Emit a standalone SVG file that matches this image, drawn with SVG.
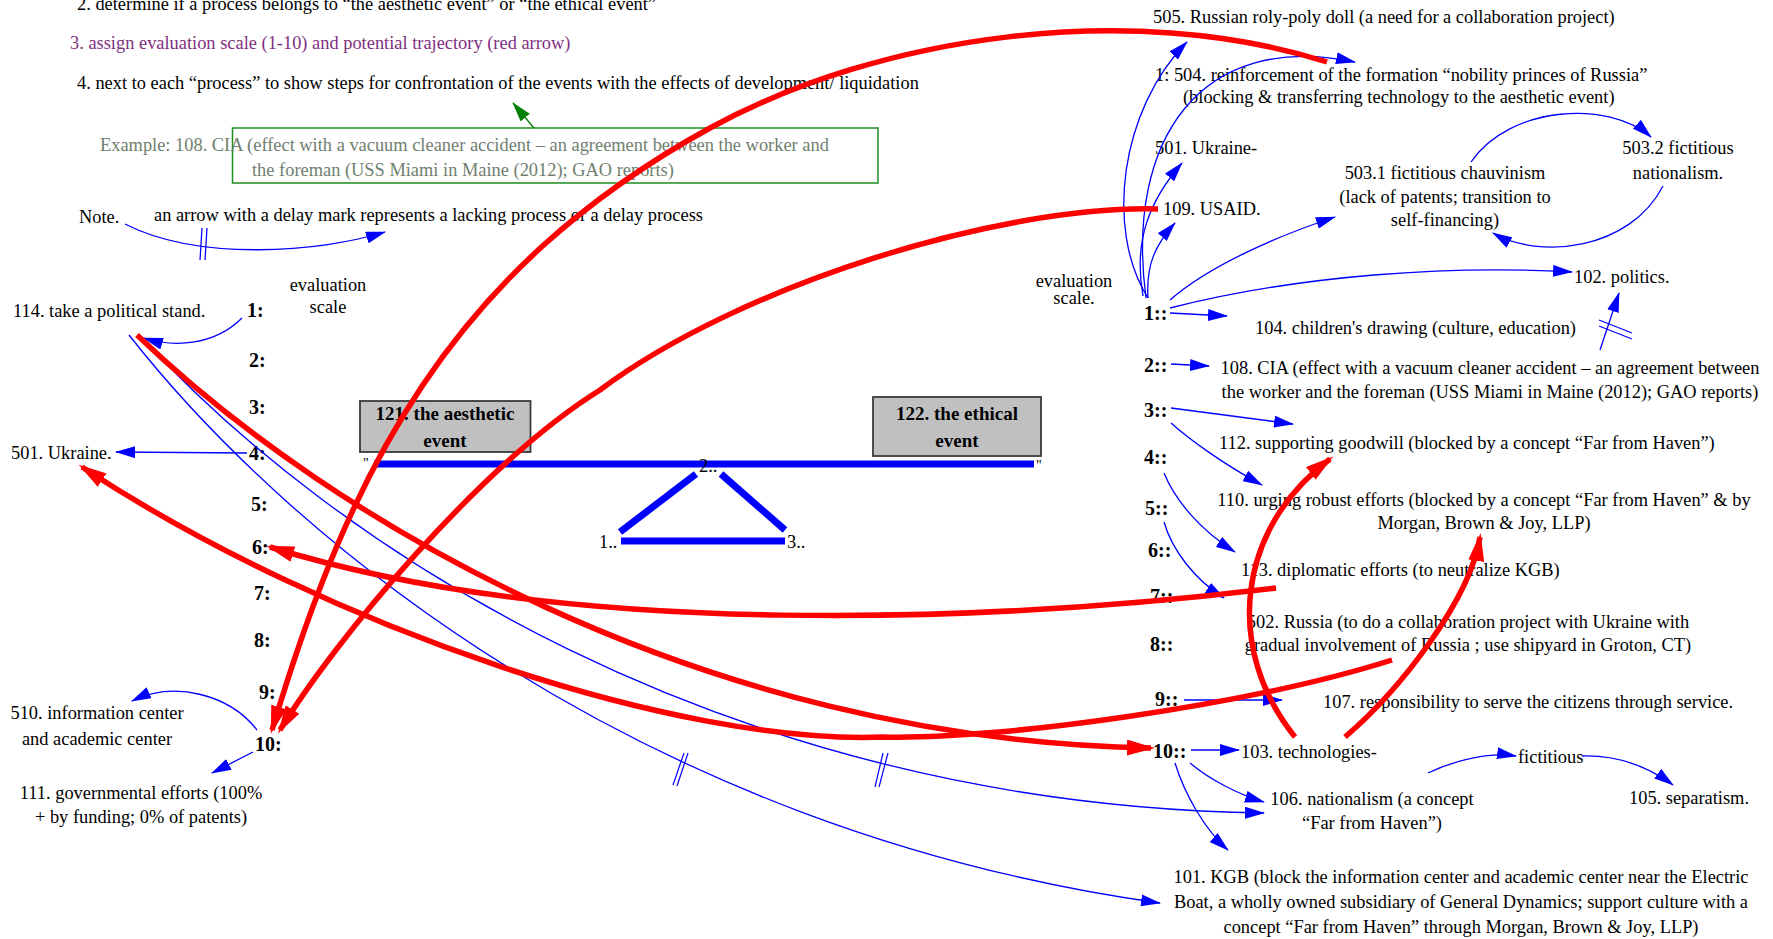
<svg xmlns="http://www.w3.org/2000/svg" width="1773" height="939" viewBox="0 0 1773 939">
<defs>
<style>
text{font-family:"Liberation Serif","Times New Roman",serif;font-size:18.4px;fill:#000}
.m{text-anchor:middle}
.b{font-weight:bold;font-size:20px}
.bx{font-weight:bold;font-size:19px}
.pu{fill:#7f2f7f}
.gy{fill:#6f806f}
.bl{fill:none;stroke:#0000ff;stroke-width:1.3}
.rd{fill:none;stroke:#ff0000;stroke-width:5.5}
.dm{stroke:#0000ff;stroke-width:1.2}
.ss{stroke:#0000ff;stroke-width:7;fill:none}
.box{fill:#c0c0c0;stroke:#3a3a3a;stroke-width:1.8}
</style>
<marker id="ab" markerUnits="userSpaceOnUse" markerWidth="20" markerHeight="12" refX="19" refY="6" orient="auto"><path d="M0,0 L20,6 L0,12 z" fill="#0000ff"/></marker>
<marker id="ag" markerUnits="userSpaceOnUse" markerWidth="20" markerHeight="12" refX="19" refY="6" orient="auto"><path d="M0,0 L20,6 L0,12 z" fill="#008000"/></marker>
<marker id="ar" markerUnits="userSpaceOnUse" markerWidth="28" markerHeight="16" refX="24" refY="8" orient="auto"><path d="M0,0 L28,8 L0,16 z" fill="#ff0000"/></marker>
</defs>
<rect width="1773" height="939" fill="#fff"/>

<g id="instructions">
<text x="77" y="10">2. determine if a process belongs to “the aesthetic event” or “the ethical event”</text>
<text x="70" y="49" class="pu">3. assign evaluation scale (1-10) and potential trajectory (red arrow)</text>
<text x="77" y="89">4. next to each “process” to show steps for confrontation of the events with the effects of development/ liquidation</text>
</g>
<g id="example">
<rect x="232.5" y="128" width="645.5" height="55" fill="none" stroke="#1e8c1e" stroke-width="1.5"/>
<text x="100" y="151" class="gy">Example: 108. CIA (effect with a vacuum cleaner accident – an agreement between the worker and</text>
<text x="252" y="176" class="gy">the foreman (USS Miami in Maine (2012); GAO reports)</text>
</g>
<g id="note">
<text x="79" y="223">Note.</text>
<text x="154" y="221">an arrow with a delay mark represents a lacking process or a delay process</text>
</g>

<g id="left-scale">
<text x="328" y="291" class="m">evaluation</text>
<text x="328" y="313" class="m">scale</text>
<text x="247" y="317" class="b">1:</text>
<text x="249" y="367" class="b">2:</text>
<text x="249" y="414" class="b">3:</text>
<text x="249" y="460" class="b">4:</text>
<text x="251" y="511" class="b">5:</text>
<text x="252" y="554" class="b">6:</text>
<text x="254" y="600" class="b">7:</text>
<text x="254" y="647" class="b">8:</text>
<text x="259" y="699" class="b">9:</text>
<text x="255" y="751" class="b">10:</text>
</g>
<g id="n114"><text x="13" y="317">114. take a political stand.</text></g>
<g id="n501L"><text x="11" y="459">501. Ukraine.</text></g>
<g id="n510"><text x="97" y="719" class="m">510. information center</text><text x="97" y="745" class="m">and academic center</text></g>
<g id="n111"><text x="141" y="799" class="m">111. governmental efforts (100%</text><text x="141" y="823" class="m">+ by funding; 0% of patents)</text></g>

<g id="seesaw">
<line x1="374" y1="464" x2="1034" y2="464" class="ss"/>
<line x1="696" y1="474" x2="620" y2="532" class="ss"/>
<line x1="721" y1="474" x2="785" y2="530" class="ss"/>
<line x1="621" y1="541" x2="785" y2="541" class="ss"/>
<text x="363" y="468" style="font-size:14px">"</text>
<text x="1036" y="470" style="font-size:14px">"</text>
<text x="699" y="472">2..</text>
<text x="599" y="548">1..</text>
<text x="787" y="548">3..</text>
</g>
<g id="n121"><rect x="360" y="401" width="170.5" height="51" class="box"/><text x="445" y="420" class="m bx">121. the aesthetic</text><text x="445" y="447" class="m bx">event</text></g>
<g id="n122"><rect x="873" y="397" width="168" height="59" class="box"/><text x="957" y="420" class="m bx">122. the ethical</text><text x="957" y="447" class="m bx">event</text></g>

<g id="right-scale">
<text x="1074" y="287" class="m">evaluation</text>
<text x="1074" y="304" class="m">scale.</text>
<text x="1144" y="320" class="b">1::</text>
<text x="1144" y="372" class="b">2::</text>
<text x="1144" y="417" class="b">3::</text>
<text x="1144" y="464" class="b">4::</text>
<text x="1145" y="515" class="b">5::</text>
<text x="1148" y="557" class="b">6::</text>
<text x="1150" y="603" class="b">7::</text>
<text x="1150" y="651" class="b">8::</text>
<text x="1155" y="706" class="b">9::</text>
<text x="1153" y="758" class="b">10::</text>
</g>
<g id="n505"><text x="1153" y="23">505. Russian roly-poly doll (a need for a collaboration project)</text></g>
<g id="n504"><text x="1155" y="81">1: 504. reinforcement of the formation “nobility princes of Russia”</text><text x="1183" y="103">(blocking &amp; transferring technology to the aesthetic event)</text></g>
<g id="n501R"><text x="1155" y="154">501. Ukraine-</text></g>
<g id="n109"><text x="1163" y="215">109. USAID.</text></g>
<g id="n503-1"><text x="1445" y="179" class="m">503.1 fictitious chauvinism</text><text x="1445" y="203" class="m">(lack of patents; transition to</text><text x="1445" y="226" class="m">self-financing)</text></g>
<g id="n503-2"><text x="1678" y="154" class="m">503.2 fictitious</text><text x="1678" y="179" class="m">nationalism.</text></g>
<g id="n102"><text x="1574" y="283">102. politics.</text></g>
<g id="n104"><text x="1255" y="334">104. children's drawing (culture, education)</text></g>
<g id="n108"><text x="1490" y="374" class="m">108. CIA (effect with a vacuum cleaner accident – an agreement between</text><text x="1490" y="398" class="m">the worker and the foreman (USS Miami in Maine (2012); GAO reports)</text></g>
<g id="n112"><text x="1219" y="449">112. supporting goodwill (blocked by a concept “Far from Haven”)</text></g>
<g id="n110"><text x="1484" y="506" class="m">110. urging robust efforts (blocked by a concept “Far from Haven” &amp; by</text><text x="1484" y="529" class="m">Morgan, Brown &amp; Joy, LLP)</text></g>
<g id="n113"><text x="1241" y="576">113. diplomatic efforts (to neutralize KGB)</text></g>
<g id="n502"><text x="1468" y="628" class="m">502. Russia (to do a collaboration project with Ukraine with</text><text x="1468" y="651" class="m">gradual involvement of Russia ; use shipyard in Groton, CT)</text></g>
<g id="n107"><text x="1323" y="708">107. responsibility to serve the citizens through service.</text></g>
<g id="n103"><text x="1241" y="758">103. technologies-</text></g>
<g id="nfict"><text x="1518" y="763">fictitious</text></g>
<g id="n105"><text x="1629" y="804">105. separatism.</text></g>
<g id="n106"><text x="1372" y="805" class="m">106. nationalism (a concept</text><text x="1372" y="829" class="m">“Far from Haven”)</text></g>
<g id="n101"><text x="1461" y="883" class="m">101. KGB (block the information center and academic center near the Electric</text><text x="1461" y="908" class="m">Boat, a wholly owned subsidiary of General Dynamics; support culture with a</text><text x="1461" y="933" class="m">concept “Far from Haven” through Morgan, Brown &amp; Joy, LLP)</text></g>

<g id="connectors">
<line x1="534" y1="128" x2="513" y2="103" stroke="#008000" stroke-width="1.3" marker-end="url(#ag)"/>
<path d="M125,224 C200,262 320,252 385,232" class="bl" marker-end="url(#ab)"/>
<line x1="202" y1="228" x2="200" y2="260" class="dm"/><line x1="207" y1="228" x2="205" y2="260" class="dm"/>

<path d="M242,318 C215,345 175,348 144,338" class="bl" marker-end="url(#ab)"/>
<path d="M247,453 L116,452" class="bl" marker-end="url(#ab)"/>
<path d="M257,730 C230,695 175,680 132,701" class="bl" marker-end="url(#ab)"/>
<path d="M253,752 L212,773" class="bl" marker-end="url(#ab)"/>

<path d="M138,334 C330,545 720,805 1264,813" class="bl" marker-end="url(#ab)"/>
<line x1="875" y1="787" x2="883" y2="753" class="dm"/><line x1="879" y1="787" x2="888" y2="753" class="dm"/>
<path d="M129,335 C290,540 640,830 1160,903" class="bl" marker-end="url(#ab)"/>
<line x1="673" y1="785" x2="684" y2="753" class="dm"/><line x1="677" y1="786" x2="688" y2="753" class="dm"/>

<path d="M1148,298 C1105,230 1120,110 1187,42" class="bl" marker-end="url(#ab)"/>
<path d="M1146,298 C1125,140 1200,30 1355,62" class="bl" marker-end="url(#ab)"/>
<path d="M1143,296 C1133,240 1150,200 1182,163" class="bl" marker-end="url(#ab)"/>
<path d="M1148,298 C1146,265 1155,245 1175,223" class="bl" marker-end="url(#ab)"/>
<path d="M1170,300 C1210,265 1280,235 1335,217" class="bl" marker-end="url(#ab)"/>
<path d="M1170,308 C1300,275 1450,265 1572,272" class="bl" marker-end="url(#ab)"/>
<path d="M1170,313 L1227,316" class="bl" marker-end="url(#ab)"/>
<path d="M1471,162 C1510,105 1610,100 1651,137" class="bl" marker-end="url(#ab)"/>
<path d="M1663,186 C1630,250 1540,260 1493,233" class="bl" marker-end="url(#ab)"/>
<path d="M1600,350 L1619,293" class="bl" marker-end="url(#ab)"/>
<line x1="1599" y1="320" x2="1632" y2="333" class="dm"/><line x1="1599" y1="326" x2="1632" y2="339" class="dm"/>

<path d="M1171,364 L1209,366" class="bl" marker-end="url(#ab)"/>
<path d="M1171,408 L1293,424" class="bl" marker-end="url(#ab)"/>
<path d="M1171,423 C1190,440 1225,465 1262,485" class="bl" marker-end="url(#ab)"/>
<path d="M1164,473 C1175,500 1200,530 1235,552" class="bl" marker-end="url(#ab)"/>
<path d="M1164,522 C1172,550 1195,580 1224,598" class="bl" marker-end="url(#ab)"/>
<path d="M1184,700 L1282,700" class="bl" marker-end="url(#ab)"/>
<path d="M1191,750 L1239,750" class="bl" marker-end="url(#ab)"/>
<path d="M1190,763 C1210,780 1240,795 1264,802" class="bl" marker-end="url(#ab)"/>
<path d="M1175,763 C1185,795 1205,830 1228,850" class="bl" marker-end="url(#ab)"/>
<path d="M1428,773 C1455,760 1490,752 1516,756" class="bl" marker-end="url(#ab)"/>
<path d="M1582,756 C1620,755 1650,768 1673,785" class="bl" marker-end="url(#ab)"/>

<path d="M1327,62 C1130,0 880,35 710,128 C450,271 350,470 272,730" class="rd" marker-end="url(#ar)"/>
<path d="M1158,209 C1000,205 740,285 600,390 C480,465 335,640 280,730" class="rd" marker-end="url(#ar)"/>
<path d="M1276,588 C996,622 570,640 270,547" class="rd" marker-end="url(#ar)"/>
<path d="M1392,660 C1250,705 1000,740 883,737 C680,745 330,630 82,467" class="rd" marker-end="url(#ar)"/>
<path d="M1295,737 C1225,650 1235,530 1330,459" class="rd" marker-end="url(#ar)"/>
<path d="M1345,737 C1400,690 1470,600 1480,537" class="rd" marker-end="url(#ar)"/>
<path d="M137,335 C330,520 700,740 1151,748" class="rd" marker-end="url(#ar)"/>
</g>
</svg>
